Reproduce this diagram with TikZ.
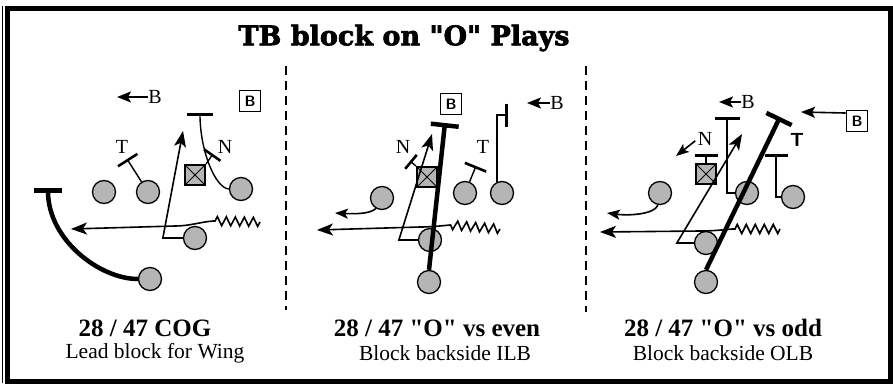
\documentclass[tikz,border=0pt]{standalone}
\usepackage{fontspec}
\setmainfont{Liberation Serif}[Ligatures=TeXOff]
\newfontfamily\titlefont{DejaVu Serif}[Ligatures=TeXOff, BoldFeatures={FakeBold=2.5}]
\usetikzlibrary{arrows.meta, decorations.pathmorphing}

\begin{document}
\begin{tikzpicture}[x=1pt, y=-1pt,
    player/.style={circle, draw, line width=1.3pt, fill=gray!58, minimum size=23pt, inner sep=0pt},
    ctr/.style={rectangle, draw, line width=2pt, fill=gray!58, minimum size=20pt, inner sep=0pt,
        path picture={\draw[line width=1pt] (path picture bounding box.north west) -- (path picture bounding box.south east)
            (path picture bounding box.south west) -- (path picture bounding box.north east);}},
    bbox/.style={draw, line width=1.8pt, minimum size=21pt, inner sep=0pt, font=\sffamily\bfseries\fontsize{15}{15}\selectfont},
    defl/.style={font=\fontsize{20}{20}\selectfont, inner sep=0pt},
    route/.style={line width=1.6pt, -{Stealth[length=16pt, width=12pt, inset=4pt]}},
    smallroute/.style={line width=1.6pt, -{Stealth[length=13pt, width=10pt, inset=3pt]}},
    back/.style={line width=1.6pt, -{Stealth[length=14pt, width=11pt, inset=3pt]}},
    blk/.style={line width=1.4pt, -{Bar[width=23pt, line width=2.6pt]}},
    bigblk/.style={line width=4.5pt, -{Bar[width=28pt]}},
    mot/.style={decoration={zigzag, segment length=9pt, amplitude=4.5pt}},
    playtitle/.style={font=\bfseries\fontsize{25}{25}\selectfont},
    playsub/.style={font=\fontsize{21.5}{21.5}\selectfont},
    divider/.style={line width=2pt, dash pattern=on 9pt off 6pt}
]
    \useasboundingbox (0,0) rectangle (893,383);
    %frame and title
    \draw[line width=5pt] (7.5,8.5) rectangle (890.5,381.5);
    \draw[line width=1.2pt] (2.5,6) -- (2.5,383);
    \node[font=\titlefont\bfseries\fontsize{27}{27}\selectfont] (title) at (404,38) {TB block on "O" Plays};
    \draw[divider] (286,66) -- (286,310);
    \draw[divider] (586,66) -- (586,312);

    %28 / 47 COG
    \node[player] (a1) at (104,192) {};
    \node[player] (a2) at (148,192) {};
    \node[player] (a3) at (241,189) {};
    \node[player] (a4) at (195,238) {};
    \node[player] (a5) at (150,279) {};
    \node[ctr] (ac) at (195,175) {};
    \node[defl] (aT) at (122,147) {T};
    \node[defl] (aN) at (225,147) {N};
    \node[bbox] (aB) at (250,101) {B};
    \node[defl] (aBk) at (155,97) {B};
    \coordinate (aBe) at (117,97);
    \coordinate (aTb) at (127,159);
    \coordinate (aNb) at (213,154);
    \coordinate (aLb) at (200,113);
    \coordinate (aKb) at (48,188);
    \coordinate (aM) at (260,222);
    \coordinate (aMe) at (71,229);
    \coordinate (aRe) at (183,131);
    \draw[blk] (a2) -- (aTb);
    \draw[blk, -{Bar[width=20pt, line width=2.6pt]}] (ac.north east) -- (aNb);
    \draw[blk, -{Bar[width=26pt, line width=2.6pt]}] (a3.west) .. controls (215,188) and (200,150) .. (aLb);
    \draw[bigblk] (a5.west) .. controls (100,279) and (48,240) .. (aKb);
    \draw[route] (a4.west) -- ++(-20,0) -- (aRe);
    \draw[route] (aM) decorate[mot]{-- (213,221)} .. controls (200,222) and (190,226) .. (175,226) -- (aMe);
    \draw[back] (aBk.west) -- (aBe);
    \node[playtitle] (acap) at (145,328) {28 / 47 COG};
    \node[playsub] (asub) at (155,353) {Lead block for Wing};

    %28 / 47 "O" vs even
    \node[player] (b1) at (382,198) {};
    \node[player] (b2) at (465,193) {};
    \node[player] (b3) at (502,193) {};
    \node[player] (b4) at (430,240) {};
    \node[player] (b5) at (429,282) {};
    \node[ctr] (bc) at (427,177) {};
    \node[defl] (bN) at (403,147) {N};
    \node[defl] (bT) at (483,147) {T};
    \node[bbox] (bB) at (451,104) {B};
    \node[defl] (bBk) at (557,103) {B};
    \coordinate (bBe) at (527,103);
    \coordinate (bUb) at (508,115);
    \coordinate (bTb) at (476,166);
    \coordinate (bNb) at (410,161);
    \coordinate (bKb) at (445,123);
    \coordinate (bRe) at (432,134);
    \coordinate (bM) at (500,229);
    \coordinate (bMe) at (317,230);
    \coordinate (bSe) at (335,213);
    \draw[blk] (b3.115) |- (bUb);
    \draw[blk] (b2) -- (bTb);
    \draw[blk, -{Bar[width=18pt, line width=2.6pt]}] (bc.north west) -- (bNb);
    \draw[route] (b4.west) -- ++(-19,0) -- (bRe);
    \draw[route] (bM) decorate[mot]{-- (450,225)} .. controls (440,226) and (430,227) .. (420,227) -- (bMe);
    \draw[smallroute] (b1.240) .. controls (370,214) and (355,214) .. (bSe);
    \draw[back] (bBk.west) -- (bBe);
    \draw[bigblk] (b5.north) -- (bKb);
    \node[playtitle] (bcap) at (437,328) {28 / 47 "O" vs even};
    \node[playsub] (bsub) at (445,353) {Block backside ILB};

    %28 / 47 "O" vs odd
    \node[player] (c1) at (660,193) {};
    \node[player] (c2) at (747,193) {};
    \node[player] (c3) at (793,197) {};
    \node[player] (c4) at (706,243) {};
    \node[player] (c5) at (706,282) {};
    \node[ctr] (cc) at (706,174) {};
    \node[defl] (cN) at (705,139) {N};
    \node[defl, font=\sffamily\bfseries\fontsize{19}{19}\selectfont] (cT) at (797,140) {T};
    \node[bbox] (cB) at (857,121) {B};
    \node[defl] (cBk) at (748,102) {B};
    \coordinate (cBe) at (719,102);
    \coordinate (cLb) at (727,117);
    \coordinate (cTb) at (776,154);
    \coordinate (cNb) at (706,154);
    \coordinate (cKb) at (780,117);
    \coordinate (cRe) at (742,134);
    \coordinate (cM) at (780,229);
    \coordinate (cMe) at (600,232);
    \coordinate (cSe) at (607,213);
    \coordinate (cAe) at (801,112);
    \coordinate (cDe) at (676,156);
    \draw[blk, -{Bar[width=25pt, line width=2.6pt]}] (c2.west) -| (cLb);
    \draw[blk] (c3.west) -| (cTb);
    \draw[blk] (cc.north) -- (cNb);
    \draw[route] (c4.west) -- ++(-17,0) -- (cRe);
    \draw[route] (cM) decorate[mot]{-- (732,229)} .. controls (722,230) and (712,231) .. (700,231) -- (cMe);
    \draw[smallroute] (c1.260) .. controls (655,214) and (630,216) .. (cSe);
    \draw[back] (cB.145) -- (cAe);
    \draw[back] (cBk.west) -- (cBe);
    \draw[smallroute, shorten <=3pt] (cN.west) -- (cDe);
    \draw[bigblk] (c5.north) -- (cKb);
    \node[playtitle] (ccap) at (723,328) {28 / 47 "O" vs odd};
    \node[playsub] (csub) at (723,353) {Block backside OLB};
\end{tikzpicture}
\end{document}
